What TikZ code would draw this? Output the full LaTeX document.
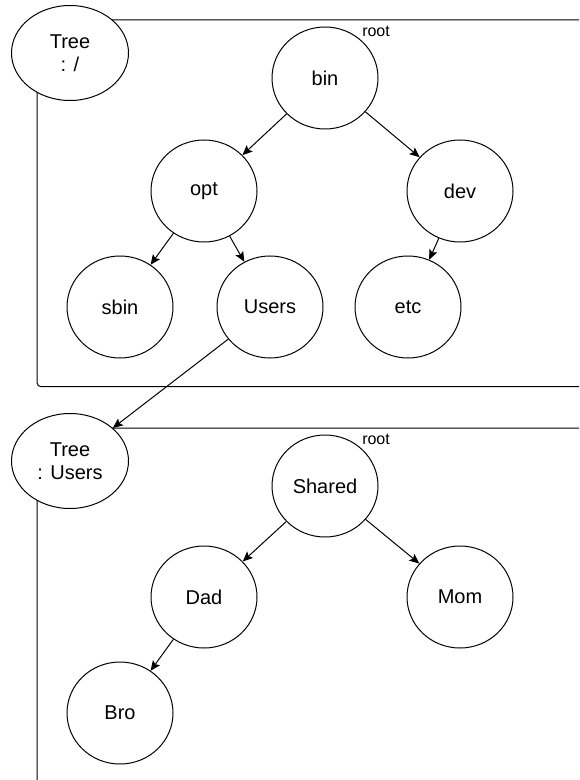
\documentclass[tikz,border=0pt]{standalone}
\usepackage{fontspec}
\setmainfont{Liberation Sans}
\usetikzlibrary{shapes.geometric,arrows.meta}
\begin{document}
\begin{tikzpicture}[x=0.75pt,y=-0.75pt,
  dnode/.style={ellipse,draw,line width=0.75pt,minimum width=79.5pt,minimum height=76.5pt,inner sep=0pt,font=\fontsize{15}{17.5}\selectfont,fill=white},
  tnode/.style={ellipse,draw,line width=0.75pt,minimum width=87.75pt,minimum height=71.25pt,inner sep=0pt,align=center,font=\fontsize{15}{17.5}\selectfont,fill=white},
  edge/.style={line width=0.75pt,-{Stealth[length=7.5pt,width=6.5pt,inset=1.5pt]}},
  frame/.style={draw,line width=0.75pt,rounded corners=3pt},
  rootlbl/.style={anchor=base west,inner sep=0pt,font=\fontsize{12}{14}\selectfont}]
\clip (0,0) rectangle (579,780);
% frames
\draw[frame] (37,20) rectangle (640,386.7);
\draw[frame] (37,428) rectangle (640,830);
% tree labels
\node[tnode] (t1) at (70,53) {Tree\\: /};
\node[tnode] (t2) at (70,461) {Tree\\: Users};
% top tree
\node[dnode] (bin) at (325,78) {bin};
\node[dnode] (opt) at (204,191) {opt};
\node[dnode] (dev) at (460,191) {dev};
\node[dnode] (sbin) at (120,307) {sbin};
\node[dnode] (users) at (270,307) {Users};
\node[dnode] (etc) at (408,307) {etc};
\node[rootlbl] (r1) at (362,36.7) {root};
% bottom tree
\node[dnode] (shared) at (325,486) {Shared};
\node[dnode] (dad) at (204,597) {Dad};
\node[dnode] (mom) at (460,597) {Mom};
\node[dnode] (bro) at (120,713) {Bro};
\node[rootlbl] (r2) at (362,444.7) {root};
% edges
\draw[edge] (bin) -- (opt);
\draw[edge] (bin) -- (dev);
\draw[edge] (opt) -- (sbin);
\draw[edge] (opt) -- (users);
\draw[edge] (dev) -- (etc);
\draw[edge] (users) -- (t2);
\draw[edge] (shared) -- (dad);
\draw[edge] (shared) -- (mom);
\draw[edge] (dad) -- (bro);
\end{tikzpicture}
\end{document}
